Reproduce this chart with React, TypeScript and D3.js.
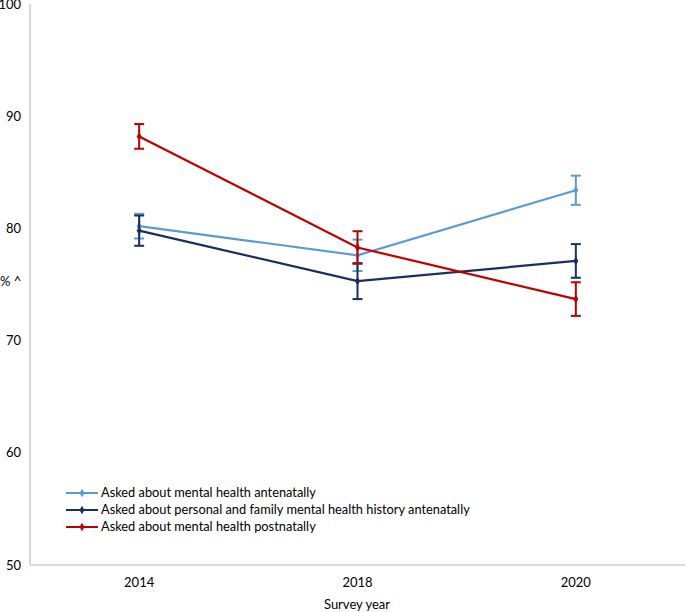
import React from "react";
import * as d3 from "d3";

const years = ["2014", "2018", "2020"];
const yTicks = [50, 60, 70, 80, 90, 100];
const seriesNames = [
  "Asked about mental health antenatally",
  "Asked about personal and family mental health history antenatally",
  "Asked about mental health postnatally",
];
const antenatal = [80.2, 77.6, 83.4];
const antenatalErr = [1.1, 1.4, 1.3];
const history = [79.8, 75.3, 77.1];
const historyErr = [1.35, 1.6, 1.5];
const postnatal = [88.2, 78.3, 73.7];
const postnatalErr = [1.1, 1.45, 1.5];
const colors = ["#5b9bd5", "#1a2f5e", "#c00000"];

const W = 685;
const H = 612;
const left = 30;
const right = 685;
const top = 4;
const bottom = 565;
const font = "Lato, 'Liberation Sans', Arial, sans-serif";

export default function App() {
  const x = d3.scaleBand<string>().domain(years).range([left, right]);
  const y = d3.scaleLinear().domain([50, 100]).range([bottom, top]);
  const series = [
    { name: seriesNames[0], vals: antenatal, err: antenatalErr, color: colors[0] },
    { name: seriesNames[1], vals: history, err: historyErr, color: colors[1] },
    { name: seriesNames[2], vals: postnatal, err: postnatalErr, color: colors[2] },
  ];
  const cx = (yr: string) => (x(yr) as number) + x.bandwidth() / 2;
  const line = d3
    .line<number>()
    .x((_, i) => cx(years[i]))
    .y((d) => y(d));
  const diamond = d3.symbol().type(d3.symbolDiamond).size(22);

  return (
    <svg width={W} height={H} style={{ position: "absolute", left: 0, top: 0 }}>
      <rect width={W} height={H} fill="#fff" />
      <line x1={left} x2={left} y1={top} y2={bottom} stroke="#d9d9d9" strokeWidth={2} />
      <line x1={left} x2={right} y1={bottom} y2={bottom} stroke="#d9d9d9" strokeWidth={2} />
      {yTicks.map((t) => (
        <text key={t} x={21} y={y(t)} dy="0.35em" textAnchor="end" fontFamily={font} fontSize={13} fill="#000">
          {t}
        </text>
      ))}
      <text x={0} y={286} fontFamily={font} fontSize={13} fill="#000">% ^</text>
      {years.map((yr) => (
        <text key={yr} x={cx(yr)} y={582} dy="0.35em" textAnchor="middle" fontFamily={font} fontSize={13} fill="#000">
          {yr}
        </text>
      ))}
      <text x={357} y={604} dy="0.35em" textAnchor="middle" fontFamily={font} fontSize={13} fill="#000">
        Survey year
      </text>
      {series.map((s, si) => (
        <g key={si}>
          <path d={line(s.vals) || ""} fill="none" stroke={s.color} strokeWidth={2.2} />
          {s.vals.map((v, i) => {
            const px = cx(years[i]);
            const y1 = y(v + s.err[i]);
            const y2 = y(v - s.err[i]);
            return (
              <g key={i}>
                <line x1={px} x2={px} y1={y1} y2={y2} stroke={s.color} strokeWidth={2} />
                <line x1={px - 5} x2={px + 5} y1={y1} y2={y1} stroke={s.color} strokeWidth={2} />
                <line x1={px - 5} x2={px + 5} y1={y2} y2={y2} stroke={s.color} strokeWidth={2} />
                <path d={diamond() || ""} transform={`translate(${px},${y(v)})`} fill={s.color} />
              </g>
            );
          })}
        </g>
      ))}
      {series.map((s, si) => {
        const ly = 493 + si * 17;
        return (
          <g key={"leg" + si}>
            <line x1={66} x2={98} y1={ly} y2={ly} stroke={s.color} strokeWidth={2} />
            <path d={diamond() || ""} transform={`translate(82,${ly})`} fill={s.color} />
            <text x={101} y={ly} dy="0.35em" fontFamily={font} fontSize={12.8} fill="#000">
              {s.name}
            </text>
          </g>
        );
      })}
    </svg>
  );
}
